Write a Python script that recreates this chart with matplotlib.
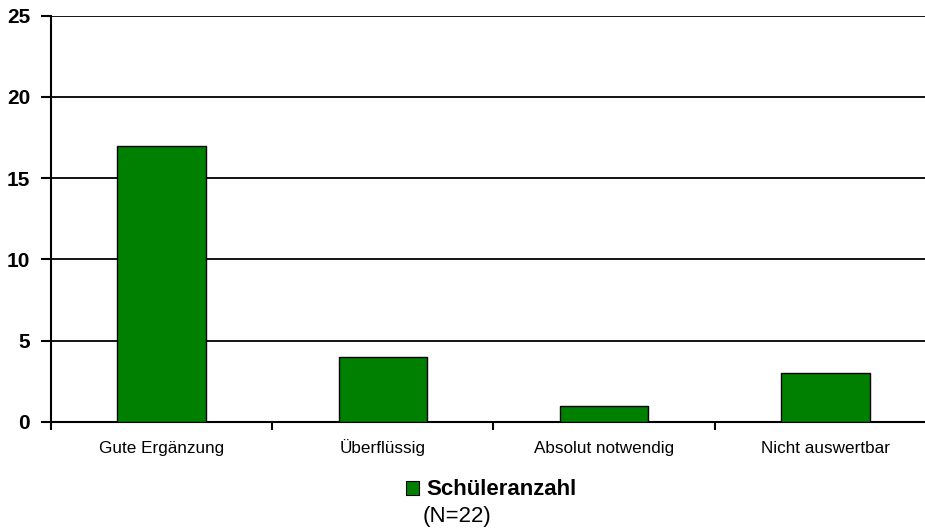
import matplotlib.pyplot as plt
from matplotlib.patches import Patch

# data
categories = ["Gute Ergänzung", "Überflüssig", "Absolut notwendig", "Nicht auswertbar"]
values = [17, 4, 1, 3]
series_label = "Schüleranzahl"
note = "(N=22)"

plt.rcParams['font.family'] = ['Liberation Sans', 'DejaVu Sans']

fig = plt.figure(figsize=(9.25, 5.28), dpi=100)
ax = fig.add_axes([0.0551, 0.2008, 0.9568, 0.7698])

x = range(len(categories))
ax.bar(x, values, width=0.40, color="#008000", edgecolor="black", linewidth=1.0, zorder=3)

ax.set_xlim(-0.5, len(categories) - 0.5)
ax.set_ylim(0, 25)
ax.set_yticks([0, 5, 10, 15, 20, 25])
ax.yaxis.grid(True, color="black", linewidth=1.3, zorder=0)
ax.set_axisbelow(True)

for side in ["top", "right"]:
    ax.spines[side].set_visible(False)
ax.spines["left"].set_linewidth(1.5)
ax.spines["bottom"].set_linewidth(1.5)

# category labels between boundary ticks
ax.set_xticks([i - 0.5 for i in range(len(categories) + 1)])
ax.set_xticklabels([])
ax.set_xticks(list(x), minor=True)
ax.set_xticklabels(categories, minor=True, fontsize=12.3, va="baseline")
ax.tick_params(axis="x", which="minor", length=0, pad=22.3)
ax.tick_params(axis="x", which="major", length=6, width=1.5, direction="out")
ax.tick_params(axis="y", length=7, width=1.5, pad=8)
for lbl in ax.get_yticklabels():
    lbl.set_fontweight("bold")
    lbl.set_fontsize(15)

handle = Patch(facecolor="#008000", edgecolor="black", linewidth=0.8)
fig.legend([handle], [series_label], loc="center left",
           bbox_to_anchor=(0.439, 0.072), frameon=False,
           prop={"weight": "bold", "size": 16},
           handlelength=0.6, handleheight=0.6, handletextpad=0.3,
           borderaxespad=0, borderpad=0)
fig.text(0.457, 0.011, note, fontsize=16, va="baseline", ha="left")

fig.savefig("out.png", dpi=100)
